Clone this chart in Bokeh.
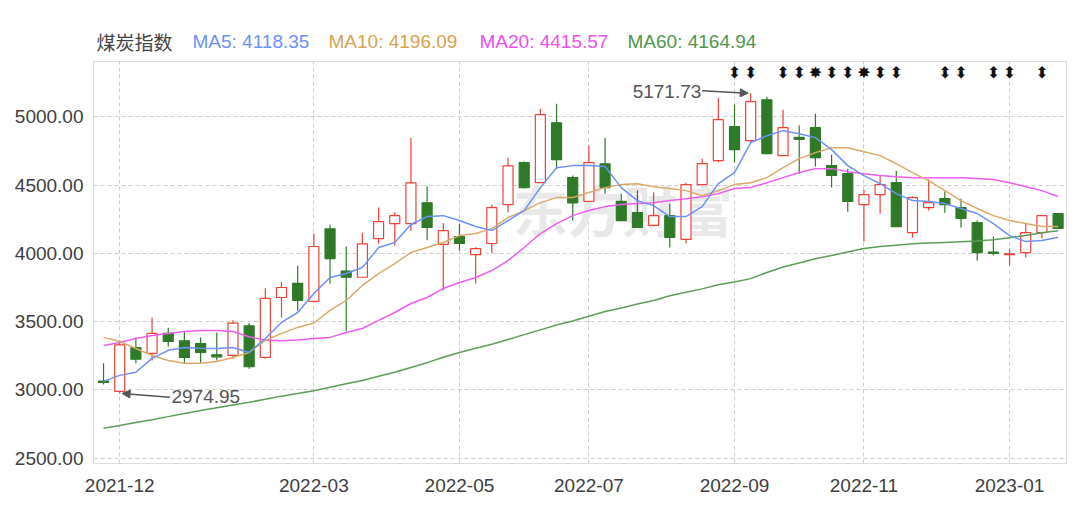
from bokeh.plotting import figure
from bokeh.layouts import column
from bokeh.models import (FixedTicker, Range1d, Label, Arrow, NormalHead,
                          ColumnDataSource, NumeralTickFormatter)
from bokeh.embed import file_html
from bokeh.resources import INLINE
from bokeh.core.properties import value

# ---------------- data ----------------
dates = ["2021-11-26", "2021-12-03", "2021-12-10", "2021-12-17", "2021-12-24",
         "2021-12-31", "2022-01-07", "2022-01-14", "2022-01-21", "2022-01-28",
         "2022-02-11", "2022-02-18", "2022-02-25", "2022-03-04", "2022-03-11",
         "2022-03-18", "2022-03-25", "2022-04-01", "2022-04-08", "2022-04-15",
         "2022-04-22", "2022-04-29", "2022-05-06", "2022-05-13", "2022-05-20",
         "2022-05-27", "2022-06-02", "2022-06-10", "2022-06-17", "2022-06-24",
         "2022-07-01", "2022-07-08", "2022-07-15", "2022-07-22", "2022-07-29",
         "2022-08-05", "2022-08-12", "2022-08-19", "2022-08-26", "2022-09-02",
         "2022-09-09", "2022-09-16", "2022-09-23", "2022-09-30", "2022-10-14",
         "2022-10-21", "2022-10-28", "2022-11-04", "2022-11-11", "2022-11-18",
         "2022-11-25", "2022-12-02", "2022-12-09", "2022-12-16", "2022-12-23",
         "2022-12-30", "2023-01-06", "2023-01-13", "2023-01-20", "2023-01-30"]

shown_months = ["2021-12", "2022-03", "2022-05", "2022-07", "2022-09", "2022-11", "2023-01"]

opens = [3065, 2990, 3310, 3268, 3414, 3360, 3340, 3258, 3253, 3470,
         3238, 3677, 3780, 3648, 4180, 3870, 3825, 4108, 4218, 4218,
         4370, 4065, 4123, 3991, 4072, 4357, 4665, 4517, 4955, 4555,
         4380, 4655, 4380, 4298, 4205, 4276, 4102, 4503, 4678, 4927,
         4825, 5124, 4715, 4848, 4920, 4642, 4583, 4357, 4430, 4517,
         4152, 4335, 4400, 4335, 4225, 4010, 3990, 4006, 4152, 4290]
closes = [3055, 3330, 3225, 3414, 3355, 3238, 3275, 3243, 3490, 3170,
          3670, 3750, 3655, 4050, 3962, 3825, 4070, 4232, 4276, 4515,
          4190, 4167, 4072, 4035, 4335, 4640, 4480, 5015, 4686, 4370,
          4664, 4480, 4240, 4190, 4276, 4117, 4503, 4657, 4978, 4759,
          5110, 4730, 4920, 4833, 4700, 4570, 4380, 4430, 4503, 4196,
          4408, 4371, 4357, 4255, 4006, 4000, 3996, 4152, 4276, 4182]
highs = [3195, 3362, 3385, 3530, 3455, 3425, 3385, 3420, 3510, 3490,
         3745, 3790, 3910, 4145, 4210, 4050, 4150, 4335, 4300, 4845,
         4490, 4220, 4215, 4045, 4357, 4700, 4672, 5058, 5095, 4570,
         4788, 4845, 4437, 4460, 4445, 4365, 4517, 4693, 5139, 5088,
         5171.73, 5146, 5050, 4935, 5022, 4722, 4620, 4466, 4570, 4605,
         4418, 4540, 4452, 4400, 4240, 4123, 4035, 4218, 4280, 4292]
lows = [3040, 2974.95, 3195, 3215, 3318, 3195, 3200, 3215, 3230, 3155,
        3230, 3530, 3580, 3640, 3780, 3430, 3820, 4070, 4057, 4165,
        4095, 3728, 4020, 3780, 4000, 4300, 4475, 4515, 4620, 4240,
        4378, 4437, 4238, 4188, 4200, 4043, 4072, 4500, 4664, 4664,
        4803, 4728, 4713, 4583, 4635, 4481, 4305, 4086, 4290, 4195,
        4115, 4313, 4298, 4189, 3947, 3985, 3911, 3969, 4108, 4180]

ma5 = [3063, 3107, 3130, 3231, 3290, 3311, 3305, 3304, 3311, 3275,
       3377, 3494, 3567, 3706, 3823, 3852, 3896, 4043, 4079, 4211,
       4269, 4276, 4240, 4196, 4167, 4240, 4313, 4481, 4627, 4642,
       4642, 4635, 4481, 4386, 4349, 4269, 4269, 4342, 4510, 4591,
       4810, 4861, 4898, 4876, 4847, 4759, 4642, 4569, 4510, 4437,
       4386, 4379, 4364, 4328, 4291, 4218, 4130, 4086, 4094, 4118.35]
ma10 = [3385, 3355, 3304, 3253, 3216, 3195, 3195, 3209, 3238, 3275,
        3363, 3414, 3458, 3490, 3582, 3655, 3765, 3852, 3925, 4006,
        4043, 4079, 4130, 4145, 4181, 4262, 4313, 4371, 4408, 4408,
        4445, 4481, 4503, 4510, 4488, 4474, 4459, 4422, 4459, 4503,
        4517, 4554, 4627, 4693, 4737, 4773, 4773, 4744, 4715, 4656,
        4591, 4532, 4459, 4386, 4328, 4276, 4240, 4218, 4196, 4196.09]
ma20 = [3326, 3348, 3377, 3399, 3414, 3428, 3436, 3436, 3428, 3390,
        3365, 3360, 3365, 3377, 3385, 3421, 3450, 3509, 3567, 3633,
        3677, 3743, 3787, 3823, 3874, 3947, 4043, 4145, 4218, 4276,
        4313, 4342, 4357, 4364, 4371, 4386, 4400, 4415, 4437, 4474,
        4481, 4517, 4554, 4591, 4620, 4620, 4598, 4583, 4569, 4561,
        4554, 4554, 4554, 4554, 4547, 4540, 4517, 4488, 4459, 4415.57]
ma60 = [2720, 2740, 2762, 2783, 2805, 2828, 2850, 2870, 2890, 2910,
        2932, 2955, 2975, 2995, 3020, 3045, 3070, 3100, 3130, 3165,
        3200, 3240, 3275, 3305, 3335, 3370, 3405, 3440, 3475, 3505,
        3540, 3575, 3600, 3630, 3655, 3690, 3715, 3740, 3770, 3790,
        3815, 3860, 3900, 3930, 3960, 3985, 4010, 4035, 4050, 4060,
        4070, 4075, 4080, 4085, 4090, 4100, 4115, 4130, 4150, 4164.94]

signal_weeks = ["2022-09-02", "2022-09-09", "2022-09-23", "2022-09-30", "2022-10-14",
                "2022-10-21", "2022-10-28", "2022-11-04", "2022-11-11", "2022-11-18",
                "2022-12-09", "2022-12-16", "2022-12-30", "2023-01-06", "2023-01-20"]
signal_kinds = ["arrow", "arrow", "arrow", "arrow", "star",
                "arrow", "arrow", "star", "arrow", "arrow",
                "arrow", "arrow", "arrow", "arrow", "arrow"]

# ---------------- styling ----------------
RED = "#ef4136"
GREEN = "#2f7a27"
C5, C10, C20, C60 = "#6b92f5", "#dcaa68", "#ef5cf0", "#5c9e55"
FONT = "Liberation Sans"
CJK = "Noto Sans CJK SC"
W = 1072
FRAME_L, FRAME_R = 93, 1066   # page pixels of the plotting frame

n = len(dates)
idx = list(range(n))
tick_idx = [next(i for i, d in enumerate(dates) if d.startswith(m)) for m in shown_months]

# ---------------- header (title + MA legend) ----------------
# the column layout aligns this frame with the main chart frame, so map page pixels
hdr = figure(width=W, height=56, output_backend="svg", toolbar_location=None,
             x_range=Range1d(FRAME_L, FRAME_R), y_range=Range1d(0, 56),
             min_border_left=0, min_border_right=0, min_border_top=0, min_border_bottom=0)
hdr.axis.visible = False
hdr.grid.visible = False
hdr.outline_line_color = None
hdr.background_fill_color = "white"
hdr.border_fill_color = "white"
header_txt = ["煤炭指数", f"MA5: {ma5[-1]:.2f}", f"MA10: {ma10[-1]:.2f}",
              f"MA20: {ma20[-1]:.2f}", f"MA60: {ma60[-1]:.2f}"]
header_col = ["#444444", C5, "#d6a253", "#ee4fee", "#4f974a"]
header_font = [CJK, FONT, FONT, FONT, FONT]
header_x = [96, 192, 328, 479, 627]
for t, c, f, xx in zip(header_txt, header_col, header_font, header_x):
    hdr.text(x=[xx], y=[15], text=[t], text_font=value(f), text_font_size="19px",
             text_color=c, text_align="left", text_baseline="middle")

# ---------------- main chart ----------------
p = figure(width=W, height=450, output_backend="svg", toolbar_location=None,
           x_range=Range1d(-0.62, 59.52), y_range=Range1d(2462, 5404),
           min_border_left=FRAME_L, min_border_right=W - FRAME_R,
           min_border_top=5, min_border_bottom=43)
p.background_fill_color = "white"
p.border_fill_color = "white"
p.outline_line_color = "#dcdcdc"

p.xaxis.ticker = FixedTicker(ticks=tick_idx)
p.xaxis.major_label_overrides = {i: m for i, m in zip(tick_idx, shown_months)}
p.yaxis.ticker = FixedTicker(ticks=[2500, 3000, 3500, 4000, 4500, 5000])
p.yaxis.formatter = NumeralTickFormatter(format="0.00")
for ax in (p.xaxis, p.yaxis):
    ax.axis_line_color = None
    ax.major_tick_line_color = None
    ax.minor_tick_line_color = None
    ax.major_label_text_font = FONT
    ax.major_label_text_font_size = "19px"
    ax.major_label_text_color = "#3d3d3d"
p.yaxis.major_label_standoff = 4
p.xaxis.major_label_standoff = 9
p.grid.grid_line_color = "#cccccc"
p.grid.grid_line_dash = "4 3"
p.grid.grid_line_width = 1

# watermark
p.add_layout(Label(x=25.3, y=4335, text="东方财富", text_font=CJK, text_font_size="55px",
                   text_font_style="bold", text_color="#e9e9e9", text_baseline="middle",
                   level="underlay"))

# candles
up = [i for i in idx if closes[i] >= opens[i]]
dn = [i for i in idx if closes[i] < opens[i]]
src_up = ColumnDataSource(dict(
    x=up, top=[closes[i] for i in up], bottom=[opens[i] for i in up],
    hi=[highs[i] for i in up], lo=[lows[i] for i in up]))
src_dn = ColumnDataSource(dict(
    x=dn, top=[opens[i] for i in dn], bottom=[closes[i] for i in dn],
    hi=[highs[i] for i in dn], lo=[lows[i] for i in dn]))

p.segment(x0="x", y0="hi", x1="x", y1="top", source=src_up, line_color=RED, line_width=1.2)
p.segment(x0="x", y0="bottom", x1="x", y1="lo", source=src_up, line_color=RED, line_width=1.2)
p.vbar(x="x", width=0.62, top="top", bottom="bottom", source=src_up,
       fill_color="white", line_color=RED, line_width=1.2)

p.segment(x0="x", y0="hi", x1="x", y1="lo", source=src_dn, line_color=GREEN, line_width=1.2)
p.vbar(x="x", width=0.62, top="top", bottom="bottom", source=src_dn,
       fill_color=GREEN, line_color=GREEN, line_width=1.2)

# moving averages
p.line(idx, ma60, line_color=C60, line_width=1.5)
p.line(idx, ma20, line_color=C20, line_width=1.5)
p.line(idx, ma10, line_color=C10, line_width=1.5)
p.line(idx, ma5, line_color=C5, line_width=1.5)

# signal markers on top row
sx = [dates.index(d) for d in signal_weeks]
stext = ["⬍" if k == "arrow" else "✸" for k in signal_kinds]
p.text(x=sx, y=[5322] * len(sx), text=stext, text_font=value("DejaVu Sans"),
       text_font_size="16px", text_color="#111111", text_align="center",
       text_baseline="middle")

# high / low annotations
hi_i = highs.index(max(highs))
lo_i = lows.index(min(lows))
p.add_layout(Arrow(end=NormalHead(size=8, fill_color="#555555", line_color="#555555"),
                   x_start=hi_i - 3.0, y_start=5190, x_end=hi_i - 0.15, y_end=highs[hi_i],
                   line_color="#555555", line_width=1.5))
p.add_layout(Label(x=hi_i - 3.05, y=5186, text=f"{highs[hi_i]:.2f}", text_font=FONT,
                   text_font_size="19px", text_color="#555555", text_align="right",
                   text_baseline="middle"))
p.add_layout(Arrow(end=NormalHead(size=8, fill_color="#555555", line_color="#555555"),
                   x_start=lo_i + 3.1, y_start=2946, x_end=lo_i + 0.15, y_end=lows[lo_i],
                   line_color="#555555", line_width=1.5))
p.add_layout(Label(x=lo_i + 3.2, y=2952, text=f"{lows[lo_i]:.2f}", text_font=FONT,
                   text_font_size="19px", text_color="#555555", text_align="left",
                   text_baseline="middle"))

layout = column(hdr, p, spacing=0)
open("out.html", "w").write(file_html(layout, INLINE))
